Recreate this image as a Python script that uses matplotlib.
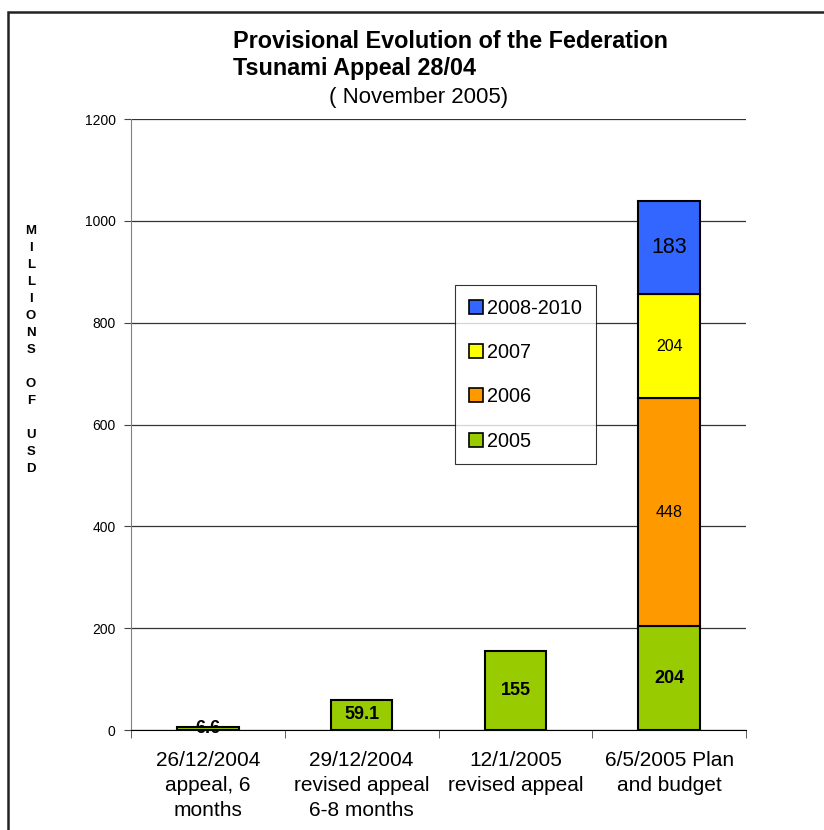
import matplotlib
matplotlib.use("Agg")
import matplotlib.pyplot as plt
from matplotlib.patches import Rectangle, Patch
import numpy as np

plt.rcParams['font.family'] = ['Liberation Sans', 'DejaVu Sans']

categories = ["26/12/2004\nappeal, 6\nmonths", "29/12/2004\nrevised appeal\n6-8 months",
              "12/1/2005\nrevised appeal", "6/5/2005 Plan\nand budget"]
series_names = ["2005", "2006", "2007", "2008-2010"]
v2005 = [6.6, 59.1, 155, 204]
v2006 = [0, 0, 0, 448]
v2007 = [0, 0, 0, 204]
v2008_2010 = [0, 0, 0, 183]
colors = ["#99CC00", "#FF9900", "#FFFF00", "#3366FF"]
yticks = [0, 200, 400, 600, 800, 1000, 1200]

fig = plt.figure(figsize=(8.24, 8.3), dpi=100)
ax = fig.add_axes([131/824, 1-730/830, (746-131)/824, (730-119)/830])

x = np.arange(len(categories))
series = [v2005, v2006, v2007, v2008_2010]
bottom = np.zeros(len(categories))
bar_w = 0.40
label_styles = [
    dict(fontsize=13, fontweight='bold'),
    dict(fontsize=11.5, fontweight='normal'),
    dict(fontsize=11.5, fontweight='normal'),
    dict(fontsize=15.5, fontweight='normal'),
]
for s, vals in enumerate(series):
    vals = np.array(vals, dtype=float)
    mask = vals > 0
    ax.bar(x[mask], vals[mask], bar_w, bottom=bottom[mask], color=colors[s],
           edgecolor='black', linewidth=1.5, zorder=3)
    for i in np.where(mask)[0]:
        lab = f"{vals[i]:g}"
        ax.text(x[i], bottom[i] + vals[i] / 2, lab, ha='center', va='center',
                zorder=2 if vals[i] < 20 else 4, **label_styles[s])
    bottom = bottom + vals

ax.set_xlim(-0.5, len(categories) - 0.5)
ax.set_ylim(0, 1200)
ax.set_yticks(yticks)
ax.set_yticklabels([str(t) for t in yticks], fontsize=10)
ax.yaxis.grid(True, color='#333333', linewidth=0.9, zorder=0)
ax.set_axisbelow(True)
ax.set_xticks(x)
ax.set_xticklabels(categories, fontsize=15, linespacing=1.42)
ax.tick_params(axis='x', length=0, pad=15)
ax.set_xticks(np.arange(-0.5, len(categories)), minor=True)
ax.tick_params(axis='x', which='minor', length=6, direction='out', color='#444444')
ax.tick_params(axis='y', length=5, direction='out', color='#444444', pad=6)
for sp in ['top', 'right']:
    ax.spines[sp].set_visible(False)
ax.spines['left'].set_color('#808080')
ax.spines['bottom'].set_color('black')

handles = [Patch(facecolor=colors[i], edgecolor='black', linewidth=1.2) for i in range(4)][::-1]
labels = series_names[::-1]
leg = ax.legend(handles, labels, loc='upper left', bbox_to_anchor=((455-131)/615, (730-285)/611),
                fontsize=14.3, frameon=True, fancybox=False, edgecolor='black',
                labelspacing=1.27, handlelength=0.7, handleheight=0.7, handletextpad=0.2,
                borderpad=0.7, borderaxespad=0)
leg.get_frame().set_linewidth(0.8)

fig.text(233/824, 1-42/830, "Provisional Evolution of the Federation", fontsize=16.8,
         fontweight='bold', ha='left', va='center')
fig.text(233/824, 1-68/830, "Tsunami Appeal 28/04", fontsize=16.8,
         fontweight='bold', ha='left', va='center')
fig.text(419/824, 1-98/830, "( November 2005)", fontsize=16, ha='center', va='center')

ylab = "M\nI\nL\nL\nI\nO\nN\nS\n \nO\nF\n \nU\nS\nD"
fig.text(31/824, 1-350/830, ylab, fontsize=9.5, fontweight='bold', ha='center', va='center',
         linespacing=1.55)

fig.patches.append(Rectangle((8/824, -0.1), 1.2, 1 - 12/830 + 0.1, transform=fig.transFigure,
                             fill=False, edgecolor='#222222', linewidth=1.8))

fig.savefig("out.png", dpi=100)
